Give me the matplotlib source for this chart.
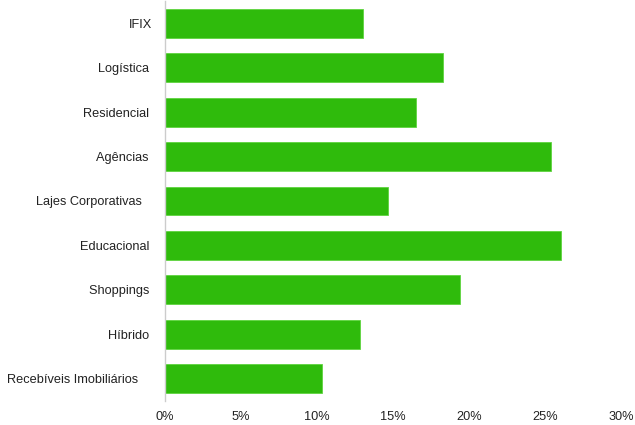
import matplotlib.pyplot as plt
import numpy as np
from matplotlib.ticker import PercentFormatter

plt.rcParams['font.family'] = ['Liberation Sans', 'DejaVu Sans']

categories = ["IFIX", "Logística ", "Residencial ", "Agências ",
              "Lajes Corporativas   ", "Educacional ", "Shoppings ",
              "Híbrido ", "Recebíveis Imobiliários    "]
values = [13.0, 18.3, 16.5, 25.4, 14.7, 26.05, 19.4, 12.8, 10.35]
x_ticks = [0, 5, 10, 15, 20, 25, 30]

fig = plt.figure(figsize=(6.35, 4.25), dpi=100)
ax = fig.add_axes([165 / 635, 1 - 401 / 425, (621 - 165) / 635, 400 / 425])

y = np.arange(len(categories))
ax.barh(y, values, height=0.65, color="#2fbb0c", edgecolor="#5fd43f", linewidth=0.6)

ax.set_ylim(len(categories) - 0.5, -0.5)
ax.set_xlim(0, 30)
ax.set_xticks(x_ticks)
ax.xaxis.set_major_formatter(PercentFormatter(decimals=0))
ax.set_yticks(y)
ax.set_yticklabels(categories)

for s in ["top", "right", "bottom"]:
    ax.spines[s].set_visible(False)
ax.spines["left"].set_color("#cccccc")
ax.spines["left"].set_linewidth(1)

ax.tick_params(axis="both", length=0, labelsize=9.2, colors="#222222")
ax.tick_params(axis="x", pad=7)
ax.tick_params(axis="y", pad=9)

fig.savefig("out.png", dpi=100)
